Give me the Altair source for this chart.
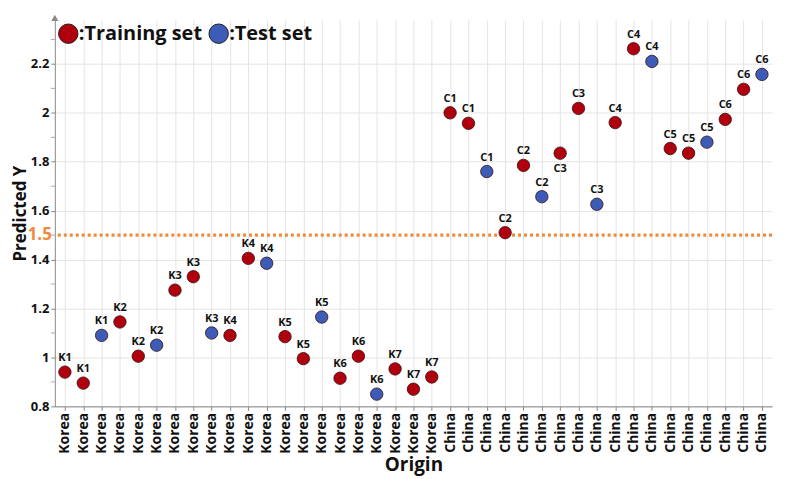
import json
import altair as alt
import pandas as pd

origins = ["Korea"] * 21 + ["China"] * 18
groups = ["K1", "K1", "K1", "K2", "K2", "K2", "K3", "K3", "K3", "K4", "K4", "K4",
          "K5", "K5", "K5", "K6", "K6", "K6", "K7", "K7", "K7",
          "C1", "C1", "C1", "C2", "C2", "C2", "C3", "C3", "C3", "C4", "C4", "C4",
          "C5", "C5", "C5", "C6", "C6", "C6"]
sets = ["Training set", "Training set", "Test set"] * 6 + ["Training set"] * 3 + \
       ["Training set", "Training set", "Test set"] * 6
predicted = [0.94, 0.895, 1.09, 1.145, 1.005, 1.05, 1.275, 1.33, 1.10, 1.09, 1.405, 1.385,
             1.085, 0.995, 1.165, 0.915, 1.005, 0.85, 0.953, 0.87, 0.92,
             2.0, 1.957, 1.76, 1.51, 1.785, 1.657, 1.835, 2.018, 1.626, 1.96, 2.262, 2.21,
             1.854, 1.835, 1.88, 1.973, 2.096, 2.157]
label_below = [27]
threshold = [1.5]

df = pd.DataFrame({
    "idx": list(range(len(predicted))),
    "origin": origins,
    "group": groups,
    "set": sets,
    "y": predicted,
    "below": [i in label_below for i in range(len(predicted))],
})
thr = pd.DataFrame({"t": threshold, "lab": [str(v) for v in threshold]})

font = "Open Sans"
labexpr = json.dumps(origins) + "[datum.value]"

x = alt.X("idx:O", title="Origin",
          scale=alt.Scale(type="point", padding=0.55),
          axis=alt.Axis(labelExpr=labexpr, labelAngle=-90, labelFontWeight="bold",
                        labelFontSize=14, labelFont=font, labelColor="#111",
                        titleFontSize=19, titleFontWeight="bold", titleFont=font,
                        titleColor="#111", grid=True, gridColor="#e4e4e4",
                        domainColor="#888", tickColor="#888", tickSize=4,
                        labelPadding=2, titlePadding=2))
yscale = alt.Scale(domain=[0.8, 2.38], nice=False, zero=False)
y = alt.Y("y:Q", title="Predicted Y", scale=yscale,
          axis=alt.Axis(values=[0.8, 1.0, 1.2, 1.4, 1.6, 1.8, 2.0, 2.2], format=".2~f",
                        labelFontWeight="bold", labelFontSize=13, labelFont=font,
                        labelColor="#111", titleFontSize=17, titleFontWeight="bold",
                        titleFont=font, titleColor="#111", gridColor="#e4e4e4",
                        domainColor="#888", tickColor="#888", tickSize=4,
                        labelPadding=2, titlePadding=1))

color = alt.Color("set:N",
                  scale=alt.Scale(domain=["Training set", "Test set"],
                                  range=["#B0000E", "#3C5CB8"]),
                  legend=alt.Legend(title=None, orient="top-left", direction="horizontal",
                                    labelExpr="':' + datum.label", labelFontSize=20,
                                    labelFontWeight="bold", labelFont=font,
                                    labelColor="#111", symbolSize=380,
                                    symbolStrokeColor="#222", symbolStrokeWidth=1,
                                    symbolType="circle", columnPadding=4,
                                    labelOffset=0, offset=3, padding=0))

base = alt.Chart(df)

points = base.mark_point(filled=True, size=155, stroke="#3a1010", strokeWidth=0.8,
                         opacity=1).encode(x=x, y=y, color=color)

lab_above = base.transform_filter("!datum.below").mark_text(
    dy=-14, fontSize=11, fontWeight="bold", font=font, color="#111"
).encode(x="idx:O", y="y:Q", text="group:N")
lab_below = base.transform_filter("datum.below").mark_text(
    dy=16, fontSize=11, fontWeight="bold", font=font, color="#111"
).encode(x="idx:O", y="y:Q", text="group:N")

rule = alt.Chart(thr).mark_rule(color="#F08A3C", strokeWidth=3.5,
                                strokeDash=[3, 3]).encode(y=alt.Y("t:Q", scale=yscale))
thr_text = alt.Chart(thr).mark_text(align="right", baseline="middle", dx=-3,
                                    fontSize=17, fontWeight="bold", font=font,
                                    color="#F08A3C").encode(
    y=alt.Y("t:Q", scale=yscale), x=alt.value(0), text="lab:N")

minor = alt.Chart(pd.DataFrame({"m": [0.9, 1.1, 1.3, 1.5, 1.7, 1.9, 2.1, 2.3]})).mark_tick(
    color="#888", size=4, thickness=1, orient="horizontal").encode(
    y=alt.Y("m:Q", scale=yscale), x=alt.value(-2))

arrow = alt.Chart(pd.DataFrame({"a": [1]})).mark_point(
    shape="triangle-up", filled=True, color="#888", size=50, opacity=1).encode(
    x=alt.value(0), y=alt.value(-2))

chart = alt.layer(rule, points, lab_above, lab_below, thr_text, minor, arrow).properties(
    width=720, height=388,
    padding={"left": 3, "top": 5, "right": 5, "bottom": 0}
).configure_view(stroke=None).configure_axis(labelFlush=False)

chart.save("out.html", embed_options={"renderer": "svg", "actions": False})
